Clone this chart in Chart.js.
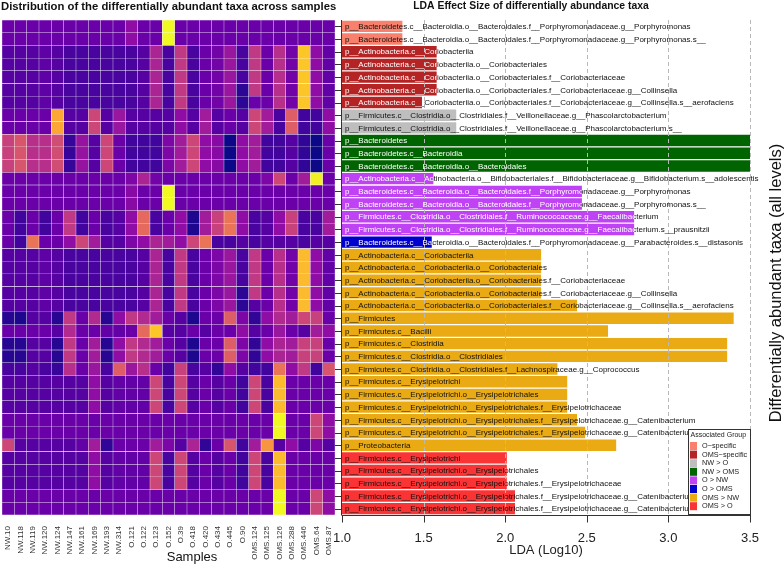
<!DOCTYPE html>
<html>
<head>
<meta charset="utf-8">
<script src="https://cdn.jsdelivr.net/npm/chart.js@4.4.1/dist/chart.umd.min.js"></script>
<style>
  html, body { margin: 0; padding: 0; background: #fff; }
  #wrap { position: relative; width: 784px; height: 565px; }
  #wrap canvas { position: absolute; left: 0; top: 0; }
</style>
</head>
<body>
<div id="wrap">
  <canvas id="heat" width="784" height="565"></canvas>
  <canvas id="lda" width="784" height="565"></canvas>
</div>
<script>
const samples = ["NW.10", "NW.118", "NW.119", "NW.120", "NW.124", "NW.147", "NW.161", "NW.169", "NW.193", "NW.314",
  "O.121", "O.122", "O.123", "O.152", "O.39", "O.418", "O.420", "O.434", "O.445", "O.90",
  "OMS.124", "OMS.125", "OMS.126", "OMS.288", "OMS.446", "OMS.64", "OMS.87"];

const taxa = [
  "p__Bacteroidetes.c__Bacteroidia.o__Bacteroidales.f__Porphyromonadaceae.g__Porphyromonas",
  "p__Bacteroidetes.c__Bacteroidia.o__Bacteroidales.f__Porphyromonadaceae.g__Porphyromonas.s__",
  "p__Actinobacteria.c__Coriobacteriia",
  "p__Actinobacteria.c__Coriobacteriia.o__Coriobacteriales",
  "p__Actinobacteria.c__Coriobacteriia.o__Coriobacteriales.f__Coriobacteriaceae",
  "p__Actinobacteria.c__Coriobacteriia.o__Coriobacteriales.f__Coriobacteriaceae.g__Collinsella",
  "p__Actinobacteria.c__Coriobacteriia.o__Coriobacteriales.f__Coriobacteriaceae.g__Collinsella.s__aerofaciens",
  "p__Firmicutes.c__Clostridia.o__Clostridiales.f__Veillonellaceae.g__Phascolarctobacterium",
  "p__Firmicutes.c__Clostridia.o__Clostridiales.f__Veillonellaceae.g__Phascolarctobacterium.s__",
  "p__Bacteroidetes",
  "p__Bacteroidetes.c__Bacteroidia",
  "p__Bacteroidetes.c__Bacteroidia.o__Bacteroidales",
  "p__Actinobacteria.c__Actinobacteria.o__Bifidobacteriales.f__Bifidobacteriaceae.g__Bifidobacterium.s__adolescentis",
  "p__Bacteroidetes.c__Bacteroidia.o__Bacteroidales.f__Porphyromonadaceae.g__Porphyromonas",
  "p__Bacteroidetes.c__Bacteroidia.o__Bacteroidales.f__Porphyromonadaceae.g__Porphyromonas.s__",
  "p__Firmicutes.c__Clostridia.o__Clostridiales.f__Ruminococcaceae.g__Faecalibacterium",
  "p__Firmicutes.c__Clostridia.o__Clostridiales.f__Ruminococcaceae.g__Faecalibacterium.s__prausnitzii",
  "p__Bacteroidetes.c__Bacteroidia.o__Bacteroidales.f__Porphyromonadaceae.g__Parabacteroides.s__distasonis",
  "p__Actinobacteria.c__Coriobacteriia",
  "p__Actinobacteria.c__Coriobacteriia.o__Coriobacteriales",
  "p__Actinobacteria.c__Coriobacteriia.o__Coriobacteriales.f__Coriobacteriaceae",
  "p__Actinobacteria.c__Coriobacteriia.o__Coriobacteriales.f__Coriobacteriaceae.g__Collinsella",
  "p__Actinobacteria.c__Coriobacteriia.o__Coriobacteriales.f__Coriobacteriaceae.g__Collinsella.s__aerofaciens",
  "p__Firmicutes",
  "p__Firmicutes.c__Bacilli",
  "p__Firmicutes.c__Clostridia",
  "p__Firmicutes.c__Clostridia.o__Clostridiales",
  "p__Firmicutes.c__Clostridia.o__Clostridiales.f__Lachnospiraceae.g__Coprococcus",
  "p__Firmicutes.c__Erysipelotrichi",
  "p__Firmicutes.c__Erysipelotrichi.o__Erysipelotrichales",
  "p__Firmicutes.c__Erysipelotrichi.o__Erysipelotrichales.f__Erysipelotrichaceae",
  "p__Firmicutes.c__Erysipelotrichi.o__Erysipelotrichales.f__Erysipelotrichaceae.g__Catenibacterium",
  "p__Firmicutes.c__Erysipelotrichi.o__Erysipelotrichales.f__Erysipelotrichaceae.g__Catenibacterium.s__",
  "p__Proteobacteria",
  "p__Firmicutes.c__Erysipelotrichi",
  "p__Firmicutes.c__Erysipelotrichi.o__Erysipelotrichales",
  "p__Firmicutes.c__Erysipelotrichi.o__Erysipelotrichales.f__Erysipelotrichaceae",
  "p__Firmicutes.c__Erysipelotrichi.o__Erysipelotrichales.f__Erysipelotrichaceae.g__Catenibacterium",
  "p__Firmicutes.c__Erysipelotrichi.o__Erysipelotrichales.f__Erysipelotrichaceae.g__Catenibacterium.s__"
];

const groups = ["O\u2212specific", "OMS\u2212specific", "NW > O", "NW > OMS", "O > NW", "O > OMS", "OMS > NW", "OMS > O"];
const groupColors = ["#F8806C", "#B42424", "#BEBEBE", "#006400", "#BF42F5", "#0000CD", "#EAAA14", "#FA3434"];
// text colour used inside the bar of each group
const groupInk = ["#111", "#fff", "#111", "#fff", "#fff", "#fff", "#111", "#111"];

// group index of every taxon (same order as taxa)
const taxonGroup = [0, 0, 1, 1, 1, 1, 1, 2, 2, 3, 3, 3, 4, 4, 4, 4, 4, 5,
  6, 6, 6, 6, 6, 6, 6, 6, 6, 6, 6, 6, 6, 6, 6, 6, 7, 7, 7, 7, 7];

// LDA score (log10) of every taxon
const ldaScore = [1.37, 1.37, 1.58, 1.58, 1.58, 1.58, 1.49, 1.70, 1.70, 3.5, 3.5, 3.5,
  1.56, 2.47, 2.47, 2.79, 2.79, 1.55,
  2.22, 2.22, 2.22, 2.22, 2.44, 3.40, 2.63, 3.36, 3.36, 2.32, 2.38, 2.38, 2.38, 2.44, 2.49, 2.68,
  2.01, 2.01, 2.01, 2.06, 2.06];

const ldaTicks = [1.0, 1.5, 2.0, 2.5, 3.0, 3.5];

// scaled relative abundance, one row per taxon, one column per sample
const abundance = [
  [0.2,0.2,0.2,0.2,0.2,0.2,0.2,0.2,0.2,0.2,0.3,0.2,0.2,1.0,0.2,0.2,0.2,0.2,0.2,0.2,0.2,0.2,0.2,0.2,0.2,0.2,0.2],
  [0.2,0.2,0.2,0.2,0.2,0.2,0.2,0.2,0.2,0.2,0.3,0.2,0.2,1.0,0.2,0.2,0.2,0.2,0.2,0.2,0.2,0.2,0.2,0.2,0.2,0.2,0.2],
  [0.15,0.15,0.15,0.17,0.15,0.12,0.12,0.12,0.12,0.12,0.12,0.15,0.38,0.12,0.45,0.12,0.2,0.22,0.33,0.12,0.45,0.2,0.42,0.22,0.88,0.3,0.18],
  [0.15,0.15,0.15,0.17,0.15,0.12,0.12,0.12,0.12,0.12,0.12,0.15,0.38,0.12,0.45,0.12,0.2,0.22,0.33,0.12,0.45,0.2,0.42,0.22,0.88,0.3,0.18],
  [0.15,0.15,0.15,0.17,0.15,0.12,0.12,0.12,0.12,0.12,0.12,0.15,0.38,0.12,0.45,0.12,0.2,0.22,0.33,0.12,0.45,0.2,0.42,0.22,0.88,0.3,0.18],
  [0.15,0.15,0.15,0.17,0.15,0.12,0.12,0.12,0.12,0.12,0.12,0.15,0.38,0.12,0.45,0.12,0.2,0.22,0.33,0.06,0.45,0.2,0.42,0.22,0.88,0.3,0.18],
  [0.15,0.15,0.15,0.17,0.15,0.12,0.12,0.12,0.12,0.12,0.12,0.15,0.38,0.12,0.45,0.12,0.2,0.22,0.33,0.06,0.2,0.2,0.42,0.22,0.88,0.3,0.18],
  [0.2,0.2,0.2,0.2,0.8,0.15,0.15,0.5,0.15,0.33,0.15,0.15,0.15,0.15,0.3,0.15,0.35,0.15,0.2,0.15,0.5,0.35,0.12,0.58,0.1,0.1,0.3],
  [0.2,0.2,0.2,0.2,0.8,0.15,0.15,0.5,0.15,0.33,0.15,0.15,0.15,0.15,0.3,0.15,0.35,0.15,0.2,0.15,0.5,0.35,0.12,0.58,0.1,0.1,0.3],
  [0.48,0.55,0.42,0.42,0.52,0.08,0.32,0.15,0.5,0.2,0.1,0.1,0.1,0.25,0.35,0.5,0.3,0.28,0.0,0.3,0.35,0.1,0.1,0.15,0.07,0.0,0.2],
  [0.48,0.55,0.42,0.42,0.52,0.08,0.32,0.15,0.5,0.2,0.1,0.1,0.1,0.25,0.35,0.5,0.3,0.28,0.0,0.3,0.35,0.1,0.1,0.15,0.07,0.0,0.2],
  [0.48,0.55,0.42,0.42,0.52,0.08,0.32,0.15,0.5,0.2,0.1,0.1,0.1,0.25,0.35,0.5,0.3,0.28,0.0,0.3,0.35,0.1,0.1,0.15,0.07,0.0,0.2],
  [0.2,0.2,0.2,0.2,0.2,0.2,0.2,0.2,0.2,0.2,0.25,0.38,0.22,0.2,0.2,0.2,0.2,0.2,0.2,0.2,0.2,0.25,0.5,0.2,0.35,0.98,0.2],
  [0.2,0.2,0.2,0.2,0.2,0.2,0.2,0.2,0.2,0.2,0.28,0.2,0.2,1.0,0.2,0.2,0.2,0.2,0.2,0.2,0.2,0.2,0.2,0.2,0.2,0.2,0.2],
  [0.2,0.2,0.2,0.2,0.2,0.2,0.2,0.2,0.2,0.2,0.28,0.2,0.2,1.0,0.2,0.2,0.2,0.2,0.2,0.2,0.2,0.2,0.2,0.2,0.2,0.2,0.2],
  [0.2,0.1,0.2,0.1,0.2,0.45,0.1,0.2,0.12,0.15,0.3,0.62,0.12,0.2,0.3,0.03,0.35,0.48,0.65,0.3,0.12,0.15,0.3,0.48,0.12,0.12,0.35],
  [0.2,0.1,0.2,0.1,0.2,0.45,0.1,0.2,0.12,0.15,0.3,0.62,0.12,0.2,0.3,0.03,0.35,0.48,0.65,0.3,0.12,0.15,0.3,0.48,0.12,0.12,0.35],
  [0.2,0.1,0.65,0.2,0.2,0.3,0.5,0.35,0.15,0.15,0.25,0.3,0.38,0.35,0.3,0.5,0.65,0.12,0.12,0.15,0.12,0.15,0.15,0.15,0.12,0.15,0.15],
  [0.15,0.15,0.15,0.17,0.15,0.12,0.12,0.12,0.12,0.12,0.12,0.15,0.38,0.12,0.45,0.12,0.2,0.25,0.33,0.12,0.45,0.2,0.42,0.22,0.85,0.3,0.18],
  [0.15,0.15,0.15,0.17,0.15,0.12,0.12,0.12,0.12,0.12,0.12,0.15,0.38,0.12,0.45,0.12,0.2,0.25,0.33,0.12,0.45,0.2,0.42,0.22,0.85,0.3,0.18],
  [0.15,0.15,0.15,0.17,0.15,0.12,0.12,0.12,0.12,0.12,0.12,0.15,0.38,0.12,0.45,0.12,0.2,0.25,0.33,0.12,0.45,0.2,0.42,0.22,0.85,0.3,0.18],
  [0.15,0.15,0.15,0.17,0.15,0.12,0.12,0.12,0.12,0.12,0.12,0.15,0.38,0.12,0.45,0.12,0.2,0.25,0.33,0.06,0.45,0.2,0.42,0.22,0.85,0.3,0.18],
  [0.15,0.15,0.15,0.17,0.15,0.12,0.12,0.12,0.12,0.12,0.12,0.15,0.38,0.12,0.45,0.12,0.2,0.25,0.33,0.06,0.15,0.2,0.42,0.22,0.85,0.3,0.18],
  [0.05,0.03,0.15,0.15,0.05,0.45,0.2,0.4,0.05,0.3,0.45,0.4,0.35,0.2,0.15,0.03,0.2,0.2,0.58,0.25,0.07,0.3,0.4,0.35,0.5,0.48,0.2],
  [0.2,0.2,0.2,0.2,0.15,0.4,0.2,0.2,0.18,0.18,0.2,0.62,0.88,0.15,0.15,0.2,0.15,0.2,0.2,0.3,0.15,0.2,0.33,0.2,0.15,0.35,0.3],
  [0.05,0.05,0.15,0.15,0.05,0.45,0.2,0.35,0.05,0.3,0.45,0.4,0.35,0.2,0.15,0.03,0.2,0.2,0.58,0.25,0.07,0.3,0.38,0.35,0.48,0.48,0.2],
  [0.05,0.05,0.15,0.15,0.05,0.45,0.2,0.35,0.05,0.3,0.45,0.4,0.35,0.2,0.15,0.03,0.2,0.2,0.58,0.25,0.07,0.3,0.38,0.35,0.48,0.48,0.2],
  [0.12,0.12,0.15,0.12,0.08,0.42,0.2,0.33,0.12,0.58,0.33,0.42,0.2,0.1,0.48,0.12,0.15,0.07,0.3,0.15,0.1,0.1,0.65,0.3,0.45,0.1,0.55],
  [0.15,0.15,0.15,0.15,0.15,0.15,0.15,0.3,0.15,0.18,0.18,0.18,0.5,0.12,0.5,0.15,0.2,0.15,0.2,0.1,0.5,0.12,0.85,0.2,0.2,0.2,0.2],
  [0.15,0.15,0.15,0.15,0.15,0.15,0.15,0.3,0.15,0.18,0.18,0.18,0.5,0.12,0.5,0.15,0.2,0.15,0.2,0.1,0.5,0.12,0.85,0.2,0.2,0.2,0.2],
  [0.15,0.15,0.15,0.15,0.15,0.15,0.15,0.3,0.15,0.18,0.18,0.18,0.5,0.12,0.5,0.15,0.2,0.15,0.2,0.1,0.5,0.12,0.85,0.2,0.2,0.2,0.2],
  [0.2,0.2,0.2,0.2,0.2,0.2,0.2,0.2,0.2,0.2,0.2,0.2,0.2,0.2,0.2,0.2,0.2,0.2,0.2,0.2,0.2,0.2,1.0,0.2,0.2,0.5,0.3],
  [0.2,0.2,0.2,0.2,0.2,0.2,0.2,0.2,0.2,0.2,0.2,0.2,0.2,0.2,0.2,0.2,0.2,0.2,0.2,0.2,0.2,0.2,1.0,0.2,0.2,0.5,0.3],
  [0.5,0.15,0.15,0.15,0.15,0.15,0.18,0.35,0.07,0.2,0.2,0.2,0.35,0.25,0.15,0.38,0.07,0.2,0.55,0.1,0.35,0.75,0.15,0.3,0.15,0.25,0.15],
  [0.15,0.15,0.15,0.15,0.15,0.15,0.15,0.3,0.15,0.18,0.18,0.18,0.5,0.12,0.5,0.15,0.2,0.15,0.2,0.1,0.5,0.12,0.85,0.2,0.2,0.2,0.2],
  [0.15,0.15,0.15,0.15,0.15,0.15,0.15,0.3,0.15,0.18,0.18,0.18,0.5,0.12,0.5,0.15,0.2,0.15,0.2,0.1,0.5,0.12,0.85,0.2,0.2,0.2,0.2],
  [0.15,0.15,0.15,0.15,0.15,0.15,0.15,0.3,0.15,0.18,0.18,0.18,0.5,0.12,0.5,0.15,0.2,0.15,0.2,0.1,0.5,0.12,0.85,0.2,0.2,0.2,0.2],
  [0.2,0.2,0.2,0.2,0.2,0.2,0.2,0.2,0.2,0.2,0.2,0.2,0.2,0.2,0.2,0.2,0.2,0.2,0.2,0.2,0.2,0.2,1.0,0.2,0.2,0.5,0.3],
  [0.2,0.2,0.2,0.2,0.2,0.2,0.2,0.2,0.2,0.2,0.2,0.2,0.2,0.2,0.2,0.2,0.2,0.2,0.2,0.2,0.2,0.2,1.0,0.2,0.2,0.5,0.3]
];

const FONT = "'Liberation Sans', Arial, sans-serif";

// plasma colour scale
const plasmaStops = ["#0d0887", "#41049d", "#6a00a8", "#8f0da4", "#b12a90", "#cc4778",
  "#e16462", "#f2844b", "#fca636", "#fcce25", "#f0f921"];
function hexRgb(h) {
  return [parseInt(h.slice(1, 3), 16), parseInt(h.slice(3, 5), 16), parseInt(h.slice(5, 7), 16)];
}
function plasma(v) {
  const t = Math.max(0, Math.min(1, v)) * (plasmaStops.length - 1);
  const i = Math.min(Math.floor(t), plasmaStops.length - 2);
  const f = t - i;
  const a = hexRgb(plasmaStops[i]), b = hexRgb(plasmaStops[i + 1]);
  const c = a.map((x, k) => Math.round(x + (b[k] - x) * f));
  return "rgb(" + c.join(",") + ")";
}

// ---------- heatmap ----------
new Chart(document.getElementById("heat"), {
  type: "bar",
  data: {
    labels: samples,
    datasets: taxa.map((t, r) => ({
      data: samples.map(() => [r, r + 1]),
      backgroundColor: abundance[r].map(plasma),
      borderColor: "rgba(255,255,255,0.22)",
      borderWidth: 0.5,
      borderSkipped: false,
      grouped: false,
      barPercentage: 1,
      categoryPercentage: 1
    }))
  },
  options: {
    responsive: false,
    animation: false,
    layout: { padding: { left: 2, right: 449, top: 20, bottom: 0 } },
    plugins: { legend: { display: false }, tooltip: { enabled: false } },
    scales: {
      x: {
        grid: { display: false },
        border: { display: false },
        ticks: { autoSkip: false, minRotation: 90, maxRotation: 90, padding: 3,
          color: "#333", font: { family: FONT, size: 8 } },
        afterFit(s) { s.height = 50; }
      },
      y: { display: false, reverse: true, min: 0, max: taxa.length }
    }
  }
});

// ---------- LDA bars ----------
// dashed value lines over the bars, the x axis line and its tick marks, placed by the x scale
const ldaGrid = {
  id: "ldaGrid",
  afterDatasetsDraw(chart) {
    const ctx = chart.ctx, xs = chart.scales.x, area = chart.chartArea;
    ctx.save();
    ctx.lineWidth = 1;
    const yb = Math.round(area.bottom) + 0.5;
    ldaTicks.forEach((v) => {
      const x = Math.round(xs.getPixelForValue(v)) + 0.5;
      if (v > ldaTicks[0]) {
        ctx.strokeStyle = "#b8b8b8";
        ctx.setLineDash([4, 3]);
        ctx.beginPath();
        ctx.moveTo(x, area.top);
        ctx.lineTo(x, yb);
        ctx.stroke();
      }
      ctx.setLineDash([]);
      ctx.strokeStyle = "#333";
      ctx.beginPath();
      ctx.moveTo(x, yb);
      ctx.lineTo(x, yb + 7);
      ctx.stroke();
    });
    ctx.beginPath();
    ctx.moveTo(area.left - 0.5, yb);
    ctx.lineTo(Math.round(area.right) + 1, yb);
    ctx.stroke();
    ctx.restore();
  }
};

// y axis line and a tick at every taxon row, placed by the category scale
const rowTicks = {
  id: "rowTicks",
  afterDraw(chart) {
    const ctx = chart.ctx, ys = chart.scales.y, area = chart.chartArea;
    ctx.save();
    ctx.strokeStyle = "#333";
    ctx.lineWidth = 1;
    ctx.beginPath();
    ctx.moveTo(area.left - 0.5, area.top);
    ctx.lineTo(area.left - 0.5, area.bottom);
    taxa.forEach((t, i) => {
      const y = Math.round(ys.getPixelForValue(i)) + 0.5;
      ctx.moveTo(area.left - 7, y);
      ctx.lineTo(area.left, y);
    });
    ctx.stroke();
    ctx.restore();
  }
};

const barLabels = {
  id: "barLabels",
  afterDraw(chart) {
    const ctx = chart.ctx;
    ctx.save();
    ctx.font = "8px " + FONT;
    ctx.textBaseline = "middle";
    chart.data.datasets.forEach((ds, gi) => {
      chart.getDatasetMeta(gi).data.forEach((el, i) => {
        if (ds.data[i] == null) return;
        const x0 = el.base, x1 = el.x, y = el.y, h = el.height;
        const txt = taxa[i];
        ctx.save();
        ctx.beginPath();
        ctx.rect(x1, y - h, 800, h * 2);
        ctx.clip();
        ctx.fillStyle = "#111";
        ctx.fillText(txt, x0 + 3, y + 0.5);
        ctx.restore();
        ctx.save();
        ctx.beginPath();
        ctx.rect(x0, y - h, x1 - x0, h * 2);
        ctx.clip();
        ctx.fillStyle = groupInk[gi];
        ctx.fillText(txt, x0 + 3, y + 0.5);
        ctx.restore();
      });
    });
    ctx.restore();
  }
};

const groupLegend = {
  id: "groupLegend",
  afterDraw(chart) {
    const ctx = chart.ctx;
    const bx = 688, by = 429, bw = 62, bh = 85;
    ctx.save();
    ctx.fillStyle = "#fff";
    ctx.fillRect(bx, by, bw, bh);
    ctx.strokeStyle = "#333";
    ctx.lineWidth = 1;
    ctx.strokeRect(bx + 0.5, by + 0.5, bw, bh);
    ctx.fillStyle = "#222";
    ctx.font = "7px " + FONT;
    ctx.textBaseline = "middle";
    ctx.fillText("Associated Group", bx + 2.5, by + 6);
    ctx.font = "7.3px " + FONT;
    chart.data.datasets.forEach((ds, k) => {
      const y = by + 17 + k * 8.6;
      ctx.fillStyle = ds.backgroundColor;
      ctx.fillRect(bx + 2, y - 4, 7, 8);
      ctx.fillStyle = "#222";
      ctx.fillText(ds.label, bx + 14, y);
    });
    ctx.restore();
  }
};

const titles = {
  id: "titles",
  afterDraw(chart) {
    const ctx = chart.ctx;
    ctx.save();
    ctx.fillStyle = "#111";
    ctx.textBaseline = "middle";
    ctx.font = "bold 11.3px " + FONT;
    ctx.textAlign = "left";
    ctx.fillText("Distribution of the differentially abundant taxa across samples", 1, 7);
    ctx.font = "bold 10.4px " + FONT;
    ctx.textAlign = "center";
    ctx.fillText("LDA Effect Size of differentially abundance taxa", 531, 6);
    ctx.font = "13px " + FONT;
    ctx.fillText("Samples", 192, 557);
    ctx.font = "16.5px " + FONT;
    ctx.translate(776, 283);
    ctx.rotate(-Math.PI / 2);
    ctx.fillText("Differentially abundant taxa (all levels)", 0, 0);
    ctx.restore();
  }
};

new Chart(document.getElementById("lda"), {
  type: "bar",
  data: {
    labels: taxa.map((t, i) => i + ": " + t),
    datasets: groups.map((g, gi) => ({
      label: g,
      data: ldaScore.map((v, i) => (taxonGroup[i] === gi ? [1, v] : null)),
      backgroundColor: groupColors[gi],
      borderWidth: 0,
      grouped: false,
      barPercentage: 0.9,
      categoryPercentage: 1
    }))
  },
  options: {
    indexAxis: "y",
    responsive: false,
    animation: false,
    layout: { padding: { left: 335, right: 34, top: 20, bottom: 0 } },
    plugins: { legend: { display: false }, tooltip: { enabled: false } },
    scales: {
      x: {
        min: ldaTicks[0],
        max: ldaTicks[ldaTicks.length - 1],
        ticks: { stepSize: 0.5, padding: 8, color: "#222", font: { family: FONT, size: 13 },
          callback: (v) => Number(v).toFixed(1) },
        grid: { display: false },
        border: { display: false },
        title: { display: true, text: "LDA (Log10)", color: "#222", padding: { top: 0, bottom: 7 },
          font: { family: FONT, size: 13 } },
        afterFit(s) { s.height = 50; }
      },
      y: {
        grid: { display: false },
        border: { display: false },
        ticks: { display: false },
        afterFit(s) { s.width = 7; }
      }
    }
  },
  plugins: [ldaGrid, rowTicks, barLabels, groupLegend, titles]
});
</script>
</body>
</html>
